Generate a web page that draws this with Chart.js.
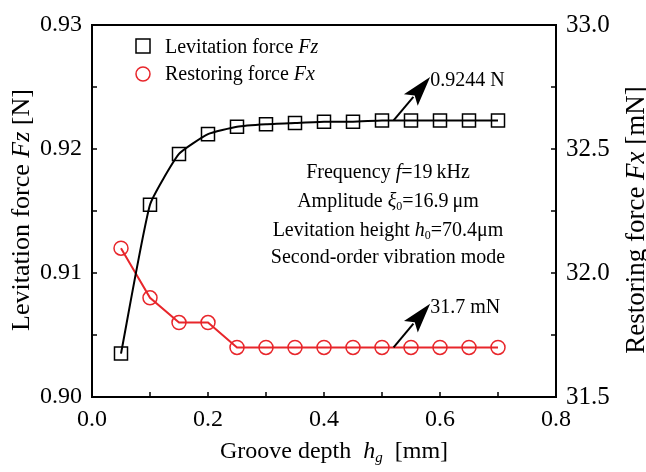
<!DOCTYPE html>
<html lang="en">
<head>
    <meta charset="UTF-8">
    <title>Levitation and restoring force vs groove depth</title>
    <style>
        body { margin: 0; background: #fff; }
        #forceChart { display: block; }
    </style>
</head>
<body>
    <canvas id="forceChart" width="646" height="472"></canvas>

    <script src="https://cdn.jsdelivr.net/npm/chart.js"></script>
    <script>
        // groove depth hg [mm]
        const depth = [0.05, 0.1, 0.15, 0.2, 0.25, 0.3, 0.35, 0.4, 0.45, 0.5, 0.55, 0.6, 0.65, 0.7];
        // levitation force Fz [N]
        const levitationForce = [0.9035, 0.9155, 0.9196, 0.9212, 0.9218, 0.9220, 0.9221, 0.9222, 0.9222, 0.9223, 0.9223, 0.9223, 0.9223, 0.9223];
        // restoring force Fx [mN]
        const restoringForce = [32.1, 31.9, 31.8, 31.8, 31.7, 31.7, 31.7, 31.7, 31.7, 31.7, 31.7, 31.7, 31.7, 31.7];

        const xTicks = [0, 0.2, 0.4, 0.6, 0.8];
        const xMinor = [0.1, 0.3, 0.5, 0.7];
        const fzTicks = [0.90, 0.91, 0.92, 0.93];
        const fzMinor = [0.905, 0.915, 0.925];
        const fxTicks = [31.5, 32.0, 32.5, 33.0];
        const fxMinor = [31.75, 32.25, 32.75];

        // arrow callouts: tail on the curve, tip at the label
        const fzNote = { text: '0.9244 N', from: [0.52, 0.9223], to: [0.583, 0.9258] };
        const fxNote = { text: '31.7 mN', from: [0.52, 31.7], to: [0.583, 31.876] };

        const SERIF = '"Liberation Serif", "Times New Roman", serif';
        const RED = '#e8262b';

        // draw a list of text runs (mixed fonts / subscripts) on one line
        function drawRuns(ctx, runs, x, y, align) {
            let total = 0;
            runs.forEach(r => { ctx.font = r.font; total += ctx.measureText(r.t).width; });
            let cx = align === 'center' ? x - total / 2 : x;
            ctx.textBaseline = 'alphabetic';
            ctx.textAlign = 'left';
            runs.forEach(r => {
                ctx.font = r.font;
                ctx.fillText(r.t, cx, y + (r.dy || 0));
                cx += ctx.measureText(r.t).width;
            });
        }

        function arrow(ctx, x1, y1, x2, y2) {
            const ang = Math.atan2(y2 - y1, x2 - x1);
            const len = 30, half = 9;
            const c = Math.cos(ang), s = Math.sin(ang);
            const bx = x2 - len * c, by = y2 - len * s;
            ctx.strokeStyle = '#000';
            ctx.lineWidth = 2;
            ctx.beginPath();
            ctx.moveTo(x1, y1);
            ctx.lineTo(bx + 4 * c, by + 4 * s);
            ctx.stroke();
            ctx.fillStyle = '#000';
            ctx.beginPath();
            ctx.moveTo(x2, y2);
            ctx.lineTo(bx + half * s, by - half * c);
            ctx.lineTo(bx + 6 * c, by + 6 * s);
            ctx.lineTo(bx - half * s, by + half * c);
            ctx.closePath();
            ctx.fill();
        }

        const decorations = {
            id: 'decorations',
            afterDraw(chart) {
                const ctx = chart.ctx;
                const { left, right, top, bottom } = chart.chartArea;
                const sx = chart.scales.x, sy = chart.scales.y, sy1 = chart.scales.y1;
                const tick = 5;

                ctx.save();
                ctx.fillStyle = '#000';
                ctx.strokeStyle = '#000';

                // frame
                ctx.lineWidth = 2;
                ctx.strokeRect(left, top, right - left, bottom - top);

                // inward tick marks
                ctx.lineWidth = 1.5;
                ctx.beginPath();
                xTicks.concat(xMinor).forEach(v => {
                    const px = sx.getPixelForValue(v);
                    ctx.moveTo(px, bottom); ctx.lineTo(px, bottom - tick);
                });
                fzTicks.concat(fzMinor).forEach(v => {
                    const py = sy.getPixelForValue(v);
                    ctx.moveTo(left, py); ctx.lineTo(left + tick, py);
                });
                fxTicks.concat(fxMinor).forEach(v => {
                    const py = sy1.getPixelForValue(v);
                    ctx.moveTo(right, py); ctx.lineTo(right - tick, py);
                });
                ctx.stroke();

                // legend
                const lf = '20px ' + SERIF, lfi = 'italic 20px ' + SERIF;
                ctx.lineWidth = 1.5;
                ctx.strokeStyle = '#000';
                ctx.strokeRect(143 - 7, 46 - 7, 14, 14);
                ctx.strokeStyle = RED;
                ctx.beginPath();
                ctx.arc(143, 74, 7, 0, Math.PI * 2);
                ctx.stroke();
                ctx.fillStyle = '#000';
                drawRuns(ctx, [{ t: 'Levitation force ', font: lf }, { t: 'Fz', font: lfi }], 165, 53, 'left');
                drawRuns(ctx, [{ t: 'Restoring force ', font: lf }, { t: 'Fx', font: lfi }], 165, 80, 'left');

                // operating conditions
                const tf = '20px ' + SERIF, tfi = 'italic 20px ' + SERIF, sub = '12px ' + SERIF;
                drawRuns(ctx, [{ t: 'Frequency ', font: tf }, { t: 'f', font: tfi }, { t: '=19\u2009kHz', font: tf }], 388, 178, 'center');
                drawRuns(ctx, [{ t: 'Amplitude ', font: tf }, { t: '\u03be', font: tfi }, { t: '0', font: sub, dy: 3 }, { t: '=16.9\u2009\u03bcm', font: tf }], 388, 207, 'center');
                drawRuns(ctx, [{ t: 'Levitation height ', font: tf }, { t: 'h', font: tfi }, { t: '0', font: sub, dy: 3 }, { t: '=70.4\u03bcm', font: tf }], 388, 236, 'center');
                drawRuns(ctx, [{ t: 'Second-order vibration mode', font: tf }], 388, 263, 'center');

                // callouts
                [[fzNote, sy], [fxNote, sy1]].forEach(([n, ys]) => {
                    const x1 = sx.getPixelForValue(n.from[0]), y1 = ys.getPixelForValue(n.from[1]);
                    const x2 = sx.getPixelForValue(n.to[0]), y2 = ys.getPixelForValue(n.to[1]);
                    arrow(ctx, x1, y1, x2, y2);
                    drawRuns(ctx, [{ t: n.text, font: '20px ' + SERIF }], x2, y2 + 9, 'left');
                });

                // axis titles
                const af = '24px ' + SERIF, afi = 'italic 24px ' + SERIF;
                drawRuns(ctx, [{ t: 'Groove depth  ', font: af }, { t: 'h', font: afi }, { t: 'g', font: 'italic 15px ' + SERIF, dy: 4 }, { t: '  [mm]', font: af }], 334, 458, 'center');

                ctx.save();
                ctx.translate(29, 210);
                ctx.rotate(-Math.PI / 2);
                drawRuns(ctx, [{ t: 'Levitation force ', font: '26px ' + SERIF }, { t: 'Fz', font: 'italic 26px ' + SERIF }, { t: ' [N]', font: '26px ' + SERIF }], 0, 0, 'center');
                ctx.restore();

                ctx.save();
                ctx.translate(644, 220);
                ctx.rotate(-Math.PI / 2);
                drawRuns(ctx, [{ t: 'Restoring force ', font: '27px ' + SERIF }, { t: 'Fx', font: 'italic 27px ' + SERIF }, { t: ' [mN]', font: '27px ' + SERIF }], 0, 0, 'center');
                ctx.restore();

                ctx.restore();
            }
        };

        const hidden = { display: false };

        new Chart(document.getElementById('forceChart').getContext('2d'), {
            type: 'line',
            data: {
                datasets: [
                    {
                        label: 'Levitation force Fz',
                        data: depth.map((d, i) => ({ x: d, y: levitationForce[i] })),
                        yAxisID: 'y',
                        borderColor: '#000',
                        borderWidth: 2,
                        tension: 0.15,
                        pointStyle: 'rect',
                        pointRadius: 9.2,
                        pointBorderWidth: 1.5,
                        pointBorderColor: '#000',
                        pointBackgroundColor: 'rgba(0,0,0,0)'
                    },
                    {
                        label: 'Restoring force Fx',
                        data: depth.map((d, i) => ({ x: d, y: restoringForce[i] })),
                        yAxisID: 'y1',
                        borderColor: RED,
                        borderWidth: 2,
                        tension: 0,
                        pointStyle: 'circle',
                        pointRadius: 7,
                        pointBorderWidth: 1.5,
                        pointBorderColor: RED,
                        pointBackgroundColor: 'rgba(0,0,0,0)'
                    }
                ]
            },
            options: {
                responsive: false,
                animation: false,
                events: [],
                layout: { padding: { top: 17, left: 0, right: 0, bottom: 0 } },
                plugins: { legend: hidden, tooltip: { enabled: false } },
                scales: {
                    x: {
                        type: 'linear', min: 0, max: 0.8,
                        afterBuildTicks: s => { s.ticks = xTicks.map(v => ({ value: v })); },
                        afterFit: s => { s.height = 75; },
                        grid: { display: false, drawTicks: false },
                        border: hidden,
                        ticks: { font: { family: SERIF, size: 24 }, color: '#000', padding: 8, maxRotation: 0, callback: v => v.toFixed(1) }
                    },
                    y: {
                        position: 'left', min: 0.90, max: 0.93,
                        afterBuildTicks: s => { s.ticks = fzTicks.map(v => ({ value: v })); },
                        afterFit: s => { s.width = 92; },
                        grid: { display: false, drawTicks: false },
                        border: hidden,
                        ticks: { font: { family: SERIF, size: 24 }, color: '#000', padding: 10, callback: v => v.toFixed(2) }
                    },
                    y1: {
                        position: 'right', min: 31.5, max: 33.0,
                        afterBuildTicks: s => { s.ticks = fxTicks.map(v => ({ value: v })); },
                        afterFit: s => { s.width = 90; },
                        grid: { display: false, drawTicks: false },
                        border: hidden,
                        ticks: { font: { family: SERIF, size: 25 }, color: '#000', padding: 10, callback: v => v.toFixed(1) }
                    }
                }
            },
            plugins: [decorations]
        });
    </script>
</body>
</html>
